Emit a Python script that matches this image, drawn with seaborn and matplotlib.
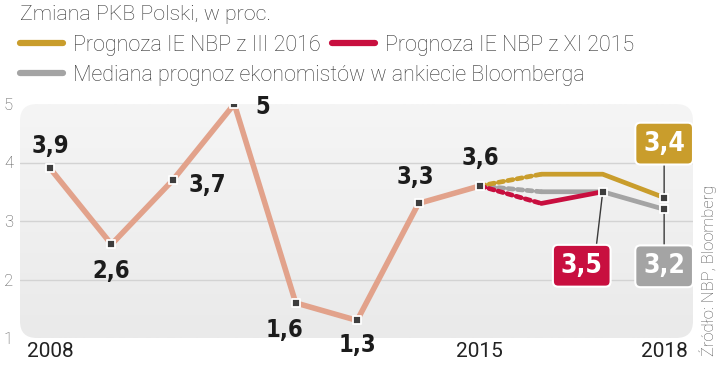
import matplotlib.pyplot as plt
import matplotlib.colors as mcolors
import numpy as np
import pandas as pd
import seaborn as sns
from matplotlib.lines import Line2D
from matplotlib.patches import FancyBboxPatch

# historical GDP growth
years = [2008, 2009, 2010, 2011, 2012, 2013, 2014, 2015]
gdp = [3.9, 2.6, 3.7, 5.0, 1.6, 1.3, 3.3, 3.6]
gdp_labels = ["3,9", "2,6", "3,7", "5", "1,6", "1,3", "3,3", "3,6"]

# forecasts
nbp_mar_years = [2015, 2016, 2017, 2018]
nbp_mar_2016 = [3.6, 3.8, 3.8, 3.4]
nbp_nov_years = [2015, 2016, 2017]
nbp_nov_2015 = [3.6, 3.3, 3.5]
bloomberg_years = [2015, 2016, 2017, 2018]
bloomberg_median = [3.6, 3.5, 3.5, 3.2]

legend_names = [
    "Prognoza IE NBP z III 2016",
    "Prognoza IE NBP z XI 2015",
    "Mediana prognoz ekonomistów w ankiecie Bloomberga",
]
y_ticks = [1, 2, 3, 4, 5]
x_ticks = [2008, 2015, 2018]

SALMON = "#E2A28B"
GOLD = "#C99D2C"
RED = "#C80F3F"
GRAY = "#A4A4A4"
MARK = "#3E3E3E"

sns.set_style("white")
plt.rcParams["font.family"] = ["Roboto", "DejaVu Sans"]
BOLD = ["DejaVu Sans"]

fig = plt.figure(figsize=(7.2, 3.65), dpi=100)
ax = fig.add_axes([20 / 720, 27 / 365, 673 / 720, 234 / 365])
for s in ax.spines.values():
    s.set_visible(False)
ax.set_facecolor("none")

# rounded gradient background
bg = FancyBboxPatch((0, 0), 1, 1, boxstyle="round,pad=0,rounding_size=0.025",
                    transform=ax.transAxes, mutation_aspect=673 / 234,
                    fc="none", ec="none")
ax.add_patch(bg)
grad = np.linspace(0, 1, 100).reshape(-1, 1)
cmap = mcolors.LinearSegmentedColormap.from_list("bg", ["#F5F5F5", "#EAEAEA"])
im = ax.imshow(grad, extent=(2007.51, 2018.47, 5, 1), aspect="auto", cmap=cmap,
               zorder=0, origin="lower")
im.set_clip_path(bg)
ax.set_xlim(2007.51, 2018.47)
ax.set_ylim(1, 5)

for g in [2, 3, 4]:
    ax.axhline(g, color="#D3D3D3", lw=1, zorder=1)

# history line
hist = pd.DataFrame({"year": years, "gdp": gdp})
sns.lineplot(data=hist, x="year", y="gdp", ax=ax, color=SALMON, lw=4,
             solid_capstyle="round", zorder=2)

dot_style = dict(linestyle=(0, (1.1, 0.9)), dash_capstyle="round", lw=3.4)
solid_style = dict(lw=3.4, solid_capstyle="round")
for xs, ys, col in [(bloomberg_years, bloomberg_median, GRAY),
                    (nbp_mar_years, nbp_mar_2016, GOLD),
                    (nbp_nov_years, nbp_nov_2015, RED)]:
    sns.lineplot(x=xs[:2], y=ys[:2], ax=ax, color=col, zorder=3, **dot_style)
    sns.lineplot(x=xs[1:], y=ys[1:], ax=ax, color=col, zorder=3, **solid_style)

# point markers
pts = pd.DataFrame({
    "year": years + [nbp_nov_years[-1], nbp_mar_years[-1], bloomberg_years[-1]],
    "val": gdp + [nbp_nov_2015[-1], nbp_mar_2016[-1], bloomberg_median[-1]],
})
sns.scatterplot(data=pts, x="year", y="val", ax=ax, marker="s", s=34,
                color=MARK, edgecolor="white", linewidth=1.3, zorder=6)

# value labels
label_offsets = [(0, 22), (0, -27), (34, -5), (28, -3),
                 (-11, -27), (0, -25), (-3, 26), (0, 28)]
for x, y, t, off in zip(years, gdp, gdp_labels, label_offsets):
    ax.annotate(t, (x, y), xytext=off, textcoords="offset pixels",
                ha="center", va="center", fontsize=17, fontweight="bold",
                fontstretch="condensed", family=BOLD, color="#1C1C1C",
                annotation_clip=False, zorder=7)

# boxed forecast labels
boxes = [
    (nbp_mar_years[-1], nbp_mar_2016[-1], GOLD, (0, 54), (0.5, 0)),
    (nbp_nov_years[-1], nbp_nov_2015[-1], RED, (-21, -74), (0.83, 1)),
    (bloomberg_years[-1], bloomberg_median[-1], GRAY, (0, -57), (0.5, 1)),
]
for x, y, col, off, rel in boxes:
    ax.annotate(f"{y:.1f}".replace(".", ","), (x, y), xytext=off,
                textcoords="offset pixels", ha="center", va="center",
                fontsize=19, fontweight="bold", fontstretch="condensed",
                family=BOLD, color="white",
                bbox=dict(boxstyle="round,pad=0.3,rounding_size=0.2",
                          fc=col, ec="white", lw=1.5),
                arrowprops=dict(arrowstyle="-", color="#3A3A3A", lw=1,
                                shrinkA=0, shrinkB=0, relpos=rel),
                annotation_clip=False, zorder=5)

ax.set_xticks(x_ticks)
ax.set_xticklabels([str(v) for v in x_ticks], fontsize=15, color="#222222")
ax.set_yticks(y_ticks)
ax.set_yticklabels([str(v) for v in y_ticks], fontsize=12, color="#555555",
                   fontweight="light")
ax.tick_params(axis="x", length=0, pad=3)
ax.tick_params(axis="y", length=0, pad=5)
ax.set_xlabel("")
ax.set_ylabel("")

# title and legend
fig.text(20 / 720, 1 - 15 / 365, "Zmiana PKB Polski, w proc.", fontsize=15.4,
         fontweight="light", color="#333333", va="center", ha="left")

def handle(c):
    return Line2D([], [], color=c, lw=4.5, solid_capstyle="round")

leg_kw = dict(frameon=False, fontsize=15.5, handlelength=2.0, handletextpad=0.45,
              borderpad=0, borderaxespad=0, columnspacing=0.55, loc="center left")
leg1 = fig.legend([handle(GOLD), handle(RED)], legend_names[:2], ncol=2,
                  bbox_to_anchor=(20 / 720, 1 - 45 / 365), **leg_kw)
leg2 = fig.legend([handle(GRAY)], legend_names[2:],
                  bbox_to_anchor=(20 / 720, 1 - 75 / 365), **leg_kw)
for lg in (leg1, leg2):
    for t in lg.get_texts():
        t.set_color("#333333")
        t.set_fontweight("light")

fig.text(708 / 720, 1 - 270 / 365, "Źródło: NBP, Bloomberg", rotation=90,
         fontsize=12, fontweight="light", color="#555555", ha="center", va="center")

fig.savefig("out.png", dpi=100)
